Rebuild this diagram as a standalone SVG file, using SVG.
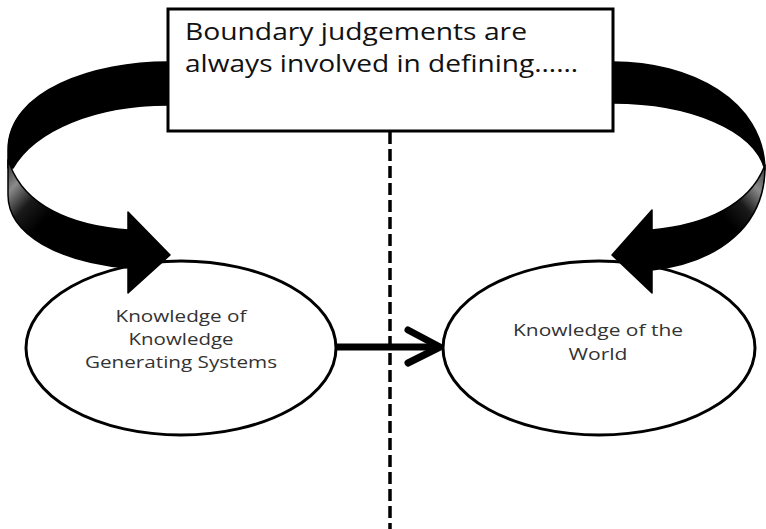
<svg xmlns="http://www.w3.org/2000/svg" width="766" height="529" viewBox="0 0 766 529">
<style>
.node{fill:#fff;stroke:#000;stroke-width:3}
.lbl{font-family:"Open Sans","Liberation Sans",sans-serif;font-size:17px;fill:#333;text-anchor:middle}
.title{font-family:"Open Sans","Liberation Sans",sans-serif;font-size:24px;fill:#111}
.band{stroke:#000;stroke-width:1.5;stroke-linejoin:round}
</style>
<defs>
<linearGradient id="gL" gradientUnits="userSpaceOnUse" x1="8" y1="168" x2="110" y2="262">
<stop offset="0" stop-color="#444"/>
<stop offset="0.12" stop-color="#8a8a8a"/>
<stop offset="0.28" stop-color="#1a1a1a"/>
<stop offset="0.45" stop-color="#000"/>
<stop offset="1" stop-color="#000"/>
</linearGradient>
<linearGradient id="gR" gradientUnits="userSpaceOnUse" x1="766" y1="170" x2="672" y2="255">
<stop offset="0" stop-color="#444"/>
<stop offset="0.15" stop-color="#8a8a8a"/>
<stop offset="0.32" stop-color="#1a1a1a"/>
<stop offset="0.5" stop-color="#000"/>
<stop offset="1" stop-color="#000"/>
</linearGradient>
</defs>

<g id="node-kgs">
<ellipse class="node" cx="181" cy="348" rx="155" ry="87"/>
<text class="lbl" x="181" y="322" textLength="131" lengthAdjust="spacingAndGlyphs">Knowledge of</text>
<text class="lbl" x="181" y="345" textLength="105" lengthAdjust="spacingAndGlyphs">Knowledge</text>
<text class="lbl" x="181" y="368" textLength="192" lengthAdjust="spacingAndGlyphs">Generating Systems</text>
</g>

<g id="node-world">
<ellipse class="node" cx="599" cy="348" rx="156" ry="87"/>
<text class="lbl" x="598" y="336" textLength="170" lengthAdjust="spacingAndGlyphs">Knowledge of the</text>
<text class="lbl" x="598" y="360" textLength="59" lengthAdjust="spacingAndGlyphs">World</text>
</g>

<g id="connectors">
<line x1="390" y1="132" x2="390" y2="529" stroke="#000" stroke-width="3.5" stroke-dasharray="12 5"/>
<line x1="337" y1="347" x2="437" y2="347" stroke="#000" stroke-width="7"/>
<polyline points="408,330 440,347 408,363" fill="none" stroke="#000" stroke-width="7" stroke-linecap="round" stroke-linejoin="round"/>
<g id="curved-left">
<path class="band" fill="#000" d="M168,62 C95,62 8,90 8,150 L8,168 L13,168 C35,130 95,105 168,105 Z"/>
<path class="band" fill="url(#gL)" d="M8,160 L8,195 C8,235 60,262 128,268 L128,293 L170,255 L128,212 L128,230 C70,226 25,205 10,165 Z"/>
</g>
<g id="curved-right">
<path class="band" fill="#000" d="M613,62 C690,62 764,100 765,170 C755,130 690,103 613,103 Z"/>
<path class="band" fill="url(#gR)" d="M765,165 C766,225 720,262 652,270 L652,293 L612,255 L652,210 L652,230 C705,225 750,205 765,165 Z"/>
</g>
</g>

<g id="node-boundary">
<rect class="node" x="168" y="9" width="445" height="122"/>
<text class="title" x="185" y="40" textLength="342" lengthAdjust="spacingAndGlyphs">Boundary judgements are</text>
<text class="title" x="185" y="72" textLength="393" lengthAdjust="spacingAndGlyphs">always involved in defining……</text>
</g>
</svg>
